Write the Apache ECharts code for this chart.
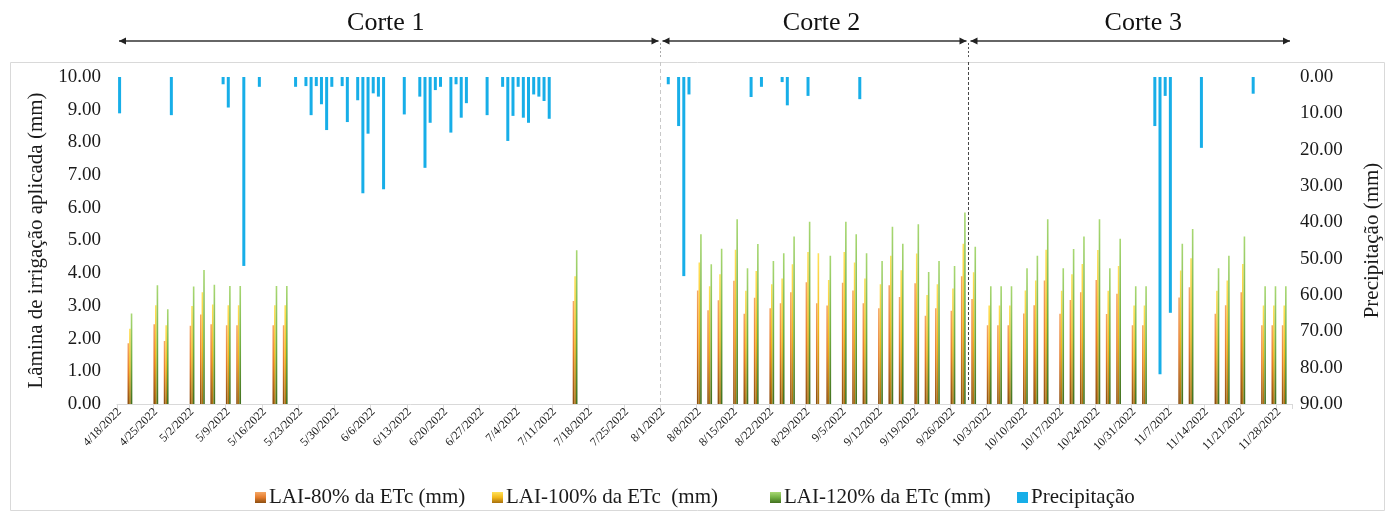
<!DOCTYPE html>
<html><head><meta charset="utf-8">
<script src="https://cdn.jsdelivr.net/npm/echarts@6/dist/echarts.min.js"></script>
<style>html,body{margin:0;padding:0;background:#fff}#c{width:1387px;height:511px}</style>
</head><body><div id="c"></div>
<script>
// ---------- data ----------
const firstDay = [2022, 4, 18];   // Y, M, D range of the daily axis
const lastDay  = [2022, 11, 30];
const irrigDates = ['4/20/2022','4/25/2022','4/27/2022','5/2/2022','5/4/2022','5/6/2022','5/9/2022','5/11/2022','5/18/2022','5/20/2022',
  '7/15/2022',
  '8/8/2022','8/10/2022','8/12/2022','8/15/2022','8/17/2022','8/19/2022','8/22/2022','8/24/2022','8/26/2022','8/29/2022','8/31/2022',
  '9/2/2022','9/5/2022','9/7/2022','9/9/2022','9/12/2022','9/14/2022','9/16/2022','9/19/2022','9/21/2022','9/23/2022','9/26/2022','9/28/2022','9/30/2022',
  '10/3/2022','10/5/2022','10/7/2022','10/10/2022','10/12/2022','10/14/2022','10/17/2022','10/19/2022','10/21/2022','10/24/2022','10/26/2022','10/28/2022','10/31/2022',
  '11/2/2022','11/9/2022','11/11/2022','11/16/2022','11/18/2022','11/21/2022','11/25/2022','11/27/2022','11/29/2022'];
const lai80 = [1.86,2.44,1.93,2.39,2.74,2.44,2.41,2.41,2.41,2.41,
  3.15,
  3.47,2.87,3.17,3.77,2.76,3.25,2.93,3.08,3.42,3.72,3.08,
  3.01,3.71,3.47,3.08,2.93,3.63,3.27,3.69,2.70,2.93,2.85,3.91,3.21,
  2.41,2.41,2.41,2.77,3.02,3.78,2.76,3.18,3.42,3.79,2.75,3.37,2.41,
  2.41,3.26,3.57,2.76,3.02,3.42,2.41,2.41,2.41];
const lai100 = [2.30,3.02,2.41,3.00,3.42,3.04,3.02,3.02,3.02,3.02,
  3.91,
  4.33,3.60,3.97,4.72,3.46,4.07,3.66,3.84,4.27,4.65,4.61,
  3.79,4.65,4.33,3.84,3.66,4.53,4.09,4.60,3.33,3.66,3.53,4.90,4.03,
  3.01,3.01,3.01,3.47,3.78,4.72,3.46,3.97,4.28,4.71,3.46,4.22,3.01,
  3.01,4.08,4.46,3.46,3.78,4.28,3.01,3.01,3.01];
const lai120 = [2.77,3.63,2.90,3.59,4.10,3.65,3.61,3.61,3.61,3.61,
  4.70,
  5.19,4.27,4.75,5.65,4.15,4.89,4.37,4.61,5.12,5.57,null,
  4.53,5.57,5.19,4.61,4.37,5.42,4.90,5.50,4.04,4.37,4.22,5.86,4.81,
  3.60,3.60,3.60,4.15,4.53,5.65,4.15,4.74,5.12,5.65,4.15,5.05,3.60,
  3.60,4.90,5.35,4.15,4.53,5.12,3.60,3.60,3.60];
const rainDates = ['4/18/2022','4/28/2022','5/8/2022','5/9/2022','5/12/2022','5/15/2022','5/22/2022','5/24/2022','5/25/2022','5/26/2022',
  '5/27/2022','5/28/2022','5/29/2022','5/31/2022','6/1/2022','6/3/2022','6/4/2022','6/5/2022','6/6/2022','6/7/2022',
  '6/8/2022','6/12/2022','6/15/2022','6/16/2022','6/17/2022','6/18/2022','6/19/2022','6/21/2022','6/22/2022','6/23/2022',
  '6/24/2022','6/28/2022','7/1/2022','7/2/2022','7/3/2022','7/4/2022','7/5/2022','7/6/2022','7/7/2022','7/8/2022',
  '7/9/2022','7/10/2022','8/2/2022','8/4/2022','8/5/2022','8/6/2022','8/18/2022','8/20/2022','8/24/2022','8/25/2022',
  '8/29/2022','9/8/2022','11/4/2022','11/5/2022','11/6/2022','11/7/2022','11/13/2022','11/23/2022'];
const rainValues = [10.0,10.5,2.0,8.4,52.0,2.7,2.7,2.5,10.5,2.5,
  7.5,14.6,2.7,2.5,12.4,6.4,32.0,15.6,4.5,5.4,
  30.9,10.3,5.4,25.0,12.6,3.6,2.7,15.3,2.0,11.2,
  7.2,10.5,2.7,17.6,10.7,2.7,11.2,12.6,4.8,5.4,
  6.6,11.5,2.0,13.5,54.8,4.8,5.5,2.7,1.4,7.8,
  5.2,6.1,13.5,81.8,5.2,64.9,19.5,4.6];
const seriesNames = ['LAI-80% da ETc (mm)','LAI-100% da ETc  (mm)','LAI-120% da ETc (mm)','Precipitação'];
const corteLabels = ['Corte 1','Corte 2','Corte 3'];
const corteStarts = ['4/18/2022','8/1/2022','9/29/2022'];
const leftAxisName = 'Lâmina de irrigação aplicada (mm)';
const rightAxisName = 'Precipitação (mm)';

// ---------- build ----------
const categories = [];
for (let t = Date.UTC(firstDay[0], firstDay[1]-1, firstDay[2]); t <= Date.UTC(lastDay[0], lastDay[1]-1, lastDay[2]); t += 86400000) {
  const d = new Date(t);
  categories.push((d.getUTCMonth()+1) + '/' + d.getUTCDate() + '/' + d.getUTCFullYear());
}
function toDaily(dates, vals) {
  const m = {};
  dates.forEach((d, i) => { if (vals[i] != null) m[d] = vals[i]; });
  return categories.map(c => (c in m) ? m[c] : '-');
}
const G = echarts.graphic.LinearGradient;
const gOrange = new G(0,0,0,1,[{offset:0,color:'#F5A766'},{offset:0.5,color:'#E47B2C'},{offset:1,color:'#8C4F12'}]);
const gYellow = new G(0,0,0,1,[{offset:0,color:'#FFE15A'},{offset:0.5,color:'#F2B81A'},{offset:1,color:'#A8700E'}]);
const gGreen  = new G(0,0,0,1,[{offset:0,color:'#A8D873'},{offset:0.5,color:'#72B043'},{offset:1,color:'#42701F'}]);
const FONT = 'Liberation Serif';
const TXT = '#1a1a1a';
const legendLeft = [250, 487, 765, 1012];

const chart = echarts.init(document.getElementById('c'), null, {renderer:'canvas'});
const barCommon = {type:'bar', xAxisIndex:0, yAxisIndex:0, barWidth:1.6, barGap:'0%', animation:false};
chart.setOption({
  animation:false,
  grid:{left:117, right:95, top:77, bottom:107, containLabel:false, outerBoundsMode:'none'},
  legend: seriesNames.map((n, i) => ({
    data:[n], left:legendLeft[i], top:482, itemWidth:11, itemHeight:11, icon:'rect',
    textStyle:{fontFamily:FONT, fontSize:21, color:TXT, padding:[0,0,0,-2]}
  })),
  xAxis:[{
    type:'category', data:categories, boundaryGap:true,
    axisLine:{show:true, lineStyle:{color:'#d9d9d9', width:1}},
    axisTick:{show:true, interval:6, length:5, lineStyle:{color:'#d9d9d9'}},
    axisLabel:{interval:6, rotate:45, fontFamily:FONT, fontSize:12, color:TXT, margin:6},
    splitLine:{show:false}
  },{
    type:'category', data:categories, boundaryGap:true, show:false
  }],
  yAxis:[{
    type:'value', min:0, max:10, interval:1, position:'left',
    axisLine:{show:false}, axisTick:{show:false}, splitLine:{show:false},
    axisLabel:{formatter:v=>v.toFixed(2), fontFamily:FONT, fontSize:19, color:TXT, margin:16},
    name:leftAxisName, nameLocation:'middle', nameRotate:90, nameGap:68,
    nameTextStyle:{fontFamily:FONT, fontSize:21, color:TXT}
  },{
    type:'value', min:0, max:90, interval:10, inverse:true, position:'right',
    axisLine:{show:false}, axisTick:{show:false}, splitLine:{show:false},
    axisLabel:{formatter:v=>v.toFixed(2), fontFamily:FONT, fontSize:19, color:TXT, margin:8},
    name:rightAxisName, nameLocation:'middle', nameRotate:90, nameGap:70,
    nameTextStyle:{fontFamily:FONT, fontSize:21, color:TXT}
  }],
  series:[
    Object.assign({name:seriesNames[0], data:toDaily(irrigDates, lai80), itemStyle:{color:gOrange}}, barCommon),
    Object.assign({name:seriesNames[1], data:toDaily(irrigDates, lai100), itemStyle:{color:gYellow}}, barCommon),
    Object.assign({name:seriesNames[2], data:toDaily(irrigDates, lai120), itemStyle:{color:gGreen}}, barCommon),
    {name:seriesNames[3], type:'bar', xAxisIndex:1, yAxisIndex:1, barWidth:3, data:toDaily(rainDates, rainValues),
     itemStyle:{color:'#17AEE8'}, animation:false}
  ]
});

// ---------- annotations (positions from the axis scale) ----------
const xAt = c => chart.convertToPixel({xAxisIndex:0}, c);
const band = xAt(categories[1]) - xAt(categories[0]);
const yBot = chart.convertToPixel({yAxisIndex:0}, 0);
const xStart = xAt(corteStarts[0]) - band/2;
const xB1 = xAt(corteStarts[1]) - band/2;
const xB2 = xAt(corteStarts[2]);
const xEnd = xAt(categories[categories.length-1]) + band/2;
const bounds = [[xStart, xB1], [xB1, xB2], [xB2, xEnd]];
const labelShift = [-3, 7, 13];
const ay = 41;
const els = [];
els.push({type:'rect', shape:{x:10.5, y:62.5, width:1374, height:448}, style:{fill:null, stroke:'#d9d9d9', lineWidth:1}, z:-1});
bounds.forEach((b, i) => {
  const a = b[0] + 2, e = b[1] - 2;
  els.push({type:'line', shape:{x1:a, y1:ay, x2:e, y2:ay}, style:{stroke:'#333', lineWidth:1.5}});
  els.push({type:'polygon', shape:{points:[[a,ay],[a+7,ay-3.5],[a+7,ay+3.5]]}, style:{fill:'#222'}});
  els.push({type:'polygon', shape:{points:[[e,ay],[e-7,ay-3.5],[e-7,ay+3.5]]}, style:{fill:'#222'}});
  els.push({type:'text', x:(b[0]+b[1])/2 + labelShift[i], y:23, style:{text:corteLabels[i], font:'26px "Liberation Serif"', fill:'#111', align:'center', verticalAlign:'middle'}});
});
els.push({type:'line', shape:{x1:xB1, y1:43, x2:xB1, y2:58}, style:{stroke:'#aaa', lineWidth:1, lineDash:[2,2]}});
els.push({type:'line', shape:{x1:xB2, y1:43, x2:xB2, y2:58}, style:{stroke:'#555', lineWidth:1, lineDash:[2,2]}});
els.push({type:'line', shape:{x1:xB1, y1:62, x2:xB1, y2:yBot}, style:{stroke:'#c8c8c8', lineWidth:1, lineDash:[4,3]}});
els.push({type:'line', shape:{x1:xB2, y1:62, x2:xB2, y2:yBot-4}, style:{stroke:'#444', lineWidth:1, lineDash:[3,2]}});
chart.setOption({graphic:{elements:els}});
</script></body></html>
